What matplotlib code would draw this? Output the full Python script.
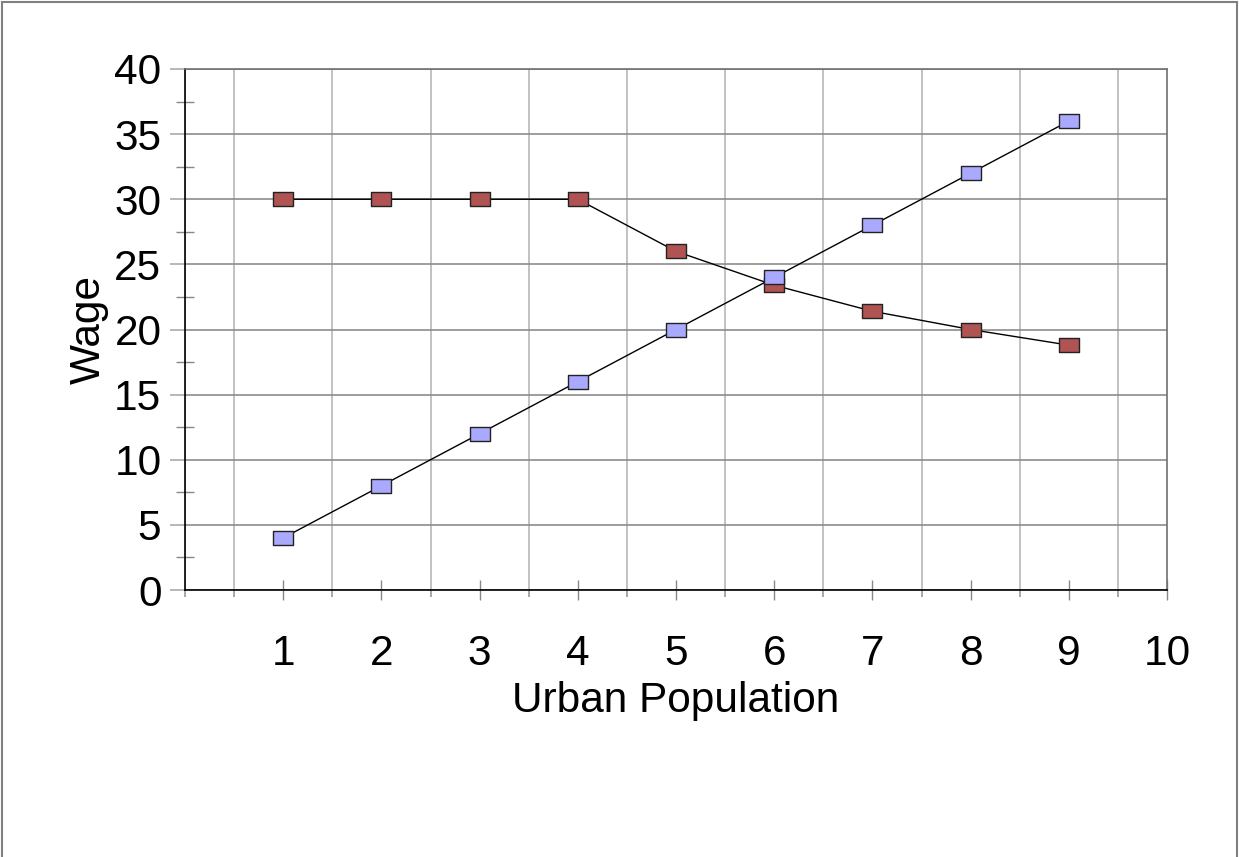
import matplotlib
matplotlib.use("Agg")
import matplotlib.pyplot as plt
from matplotlib.path import Path
from matplotlib.patches import Rectangle
from matplotlib.ticker import MultipleLocator

population = [1, 2, 3, 4, 5, 6, 7, 8, 9]
wage_blue = [4, 8, 12, 16, 20, 24, 28, 32, 36]
wage_red = [30, 30, 30, 30, 26, 23.4, 21.4, 20, 18.8]
x_ticks = [1, 2, 3, 4, 5, 6, 7, 8, 9, 10]
y_ticks = [0, 5, 10, 15, 20, 25, 30, 35, 40]

plt.rcParams['font.family'] = ['Liberation Sans', 'DejaVu Sans']

fig = plt.figure(figsize=(12.39, 8.57), dpi=100)
ax = fig.add_axes([185/1239, 267/857, 982/1239, 521/857])

rect = Path([(-1, -0.7), (1, -0.7), (1, 0.7), (-1, 0.7), (-1, -0.7)],
            [Path.MOVETO, Path.LINETO, Path.LINETO, Path.LINETO, Path.CLOSEPOLY])

ax.plot(population, wage_red, color='black', lw=1, marker=rect, markersize=14,
        markerfacecolor='#b05353', markeredgecolor='#222222', markeredgewidth=1, zorder=3)
ax.plot(population, wage_blue, color='black', lw=1, marker=rect, markersize=14,
        markerfacecolor='#a9a9ff', markeredgecolor='#222222', markeredgewidth=1, zorder=4)

ax.set_xlim(0, 10)
ax.set_ylim(0, 40)
ax.set_xticks(x_ticks)
ax.set_xticklabels([str(v) for v in x_ticks])
ax.xaxis.set_minor_locator(MultipleLocator(0.5))
ax.set_yticks(y_ticks)
ax.set_yticklabels([str(v) for v in y_ticks])
ax.yaxis.set_minor_locator(MultipleLocator(2.5))

ax.grid(axis='y', which='major', color='#8c8c8c', lw=1.2, zorder=0)
ax.grid(axis='x', which='minor', color='#b8b8b8', lw=1.2, zorder=0)
ax.grid(axis='x', which='major', visible=False)

ax.tick_params(axis='y', which='major', direction='out', length=11, color='#aaaaaa',
               width=1.2, labelsize=30.5, pad=6)
ax.tick_params(axis='y', which='minor', direction='inout', length=13, color='#888888', width=1)
ax.tick_params(axis='x', which='major', direction='inout', length=15, color='#888888',
               width=1, labelsize=30.5, pad=24.5)
ax.tick_params(axis='x', which='minor', direction='out', length=5, color='#999999', width=1.2)

for s in ['left', 'bottom']:
    ax.spines[s].set_color('black')
    ax.spines[s].set_linewidth(1.2)
ax.spines['top'].set_color('#707070')
ax.spines['right'].set_color('#707070')
ax.spines['top'].set_linewidth(1.2)
ax.spines['right'].set_linewidth(1.2)

ax.set_xlabel('Urban Population', fontsize=30.5, labelpad=4.5)
ax.set_ylabel('Wage', fontsize=30.5, labelpad=4)

fig.patches.append(Rectangle((1.5/1239, -0.05), 1235/1239, 1.05 - 1.5/857,
                             transform=fig.transFigure, fill=False,
                             edgecolor='#808080', lw=1.5))

fig.savefig('out.png', dpi=100)
